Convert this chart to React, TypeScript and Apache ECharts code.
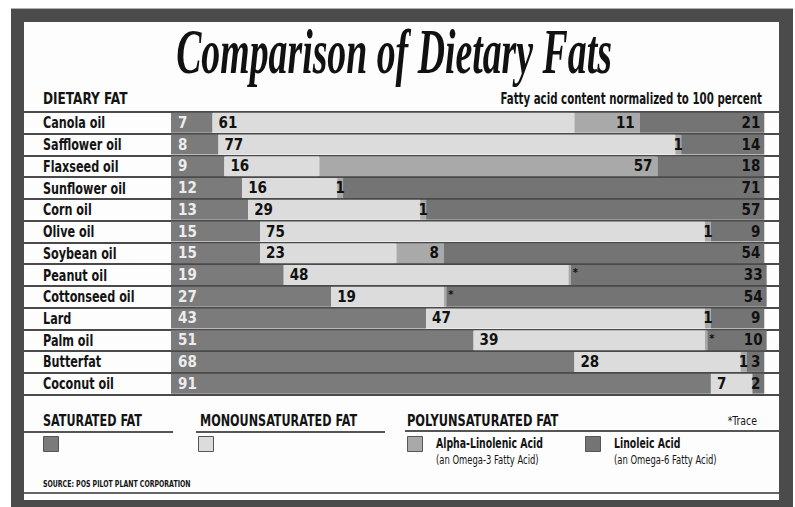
import React, { useEffect, useRef } from "react";
import * as echarts from "echarts";

const categories = [
  "Canola oil", "Safflower oil", "Flaxseed oil", "Sunflower oil", "Corn oil",
  "Olive oil", "Soybean oil", "Peanut oil", "Cottonseed oil", "Lard",
  "Palm oil", "Butterfat", "Coconut oil",
];
const saturated = [7, 8, 9, 12, 13, 15, 15, 19, 27, 43, 51, 68, 91];
const monounsaturated = [61, 77, 16, 16, 29, 75, 23, 48, 19, 47, 39, 28, 7];
// "trace" = shown as * in the chart
const alphaLinolenic: (number | "trace")[] = [11, 1, 57, 1, 1, 1, 8, "trace", "trace", 1, "trace", 1, 0];
const linoleic = [21, 14, 18, 71, 57, 9, 54, 33, 54, 9, 10, 3, 2];
const TRACE_VALUE = 0.4;

const seriesNames = ["Saturated Fat", "Monounsaturated Fat", "Alpha-Linolenic Acid", "Linoleic Acid"];
const colors = ["#7b7b7b", "#dcdcdc", "#a9a9a9", "#747474"];

const NARROW = "'Liberation Sans Narrow', 'DejaVu Sans Condensed', 'DejaVu Sans', sans-serif";

function ctext(x: number, y: number, text: string, fontSize: number, bold: boolean, sx: number, align = "left", fill = "#141414") {
  return {
    type: "text",
    z: 100,
    x,
    y,
    scaleX: sx,
    silent: true,
    style: {
      text,
      fontFamily: NARROW,
      fontWeight: bold ? "bold" : "normal",
      fontSize,
      fill,
      align,
      verticalAlign: "middle",
    },
  };
}

export default function App() {
  const ref = useRef<HTMLDivElement>(null);
  useEffect(() => {
    const chart = echarts.init(ref.current!, null, { renderer: "svg" });
    const valLabel = (extra: any) => ({
      show: true,
      fontFamily: NARROW,
      fontWeight: "bold",
      fontSize: 15,
      color: "#111",
      ...extra,
    });
    const alaData = alphaLinolenic.map((v) => {
      if (v === "trace") {
        return {
          value: TRACE_VALUE,
          label: { show: true, position: "right", distance: 2, formatter: "*", fontSize: 11, offset: [0, -2] },
        };
      }
      if (v === 0) return { value: 0, label: { show: false } };
      if (v <= 1) return { value: v, label: { show: true, position: "inside" } };
      return { value: v, label: { show: true, position: "insideRight", distance: 5 } };
    });
    const option: any = {
      animation: false,
      backgroundColor: "#ffffff",
      grid: { left: 24, right: 15, top: 112, height: 282.5, containLabel: false },
      xAxis: {
        type: "value",
        min: -24.78,
        max: 102.65,
        show: false,
      },
      yAxis: {
        type: "category",
        data: categories,
        inverse: true,
        axisLine: { show: false },
        axisTick: { show: false },
        axisLabel: { show: false },
        splitLine: { show: true, interval: 0, lineStyle: { color: "#4a4a4a", width: 2 } },
      },
      legend: [
        { left: 43, top: 436, data: [seriesNames[0]] },
        { left: 198, top: 436, data: [seriesNames[1]] },
        { left: 407, top: 436, data: [seriesNames[2]] },
        { left: 585, top: 436, data: [seriesNames[3]] },
      ].map((l) => ({
        ...l,
        padding: 0,
        selectedMode: false,
        icon: "rect",
        itemWidth: 15,
        itemHeight: 15,
        itemStyle: { borderColor: "#555", borderWidth: 1 },
        formatter: () => "",
      })),
      series: [
        {
          name: seriesNames[0],
          type: "bar",
          stack: "fat",
          barWidth: 20,
          itemStyle: { color: colors[0] },
          label: valLabel({ position: "insideLeft", distance: 7, color: "#ececec" }),
          data: saturated,
        },
        {
          name: seriesNames[1],
          type: "bar",
          stack: "fat",
          barWidth: 20,
          itemStyle: { color: colors[1] },
          label: valLabel({ position: "insideLeft", distance: 6 }),
          data: monounsaturated,
        },
        {
          name: seriesNames[2],
          type: "bar",
          stack: "fat",
          barWidth: 20,
          itemStyle: { color: colors[2] },
          label: valLabel({}),
          data: alaData,
        },
        {
          name: seriesNames[3],
          type: "bar",
          stack: "fat",
          barWidth: 20,
          itemStyle: { color: colors[3] },
          label: valLabel({ position: "insideRight", distance: 4 }),
          data: linoleic,
        },
      ],
    };
    chart.setOption(option);

    // Row (category) labels, positioned through the category axis scale
    const rowLabels = categories.map((c, i) => {
      const y = chart.convertToPixel({ yAxisIndex: 0 }, i) as number;
      return ctext(43, y, c, 16, true, 0.78);
    });

    const elements: any[] = [
      { type: "rect", silent: true, z: -20, shape: { x: 11, y: 8, width: 782, height: 499 }, style: { fill: "#4b4b4b" } },
      { type: "rect", silent: true, z: -19, shape: { x: 11, y: 8, width: 782, height: 1 }, style: { fill: "#b0b0b0" } },
      { type: "rect", silent: true, z: -18, shape: { x: 24, y: 22, width: 755, height: 478 }, style: { fill: "#fdfdfd" } },
      {
        type: "text", z: 100, x: 394, y: 52, scaleX: 0.6, silent: true,
        style: {
          text: "Comparison of Dietary Fats", fontFamily: "'Liberation Serif', 'DejaVu Serif', serif",
          fontStyle: "italic", fontWeight: "bold", fontSize: 63, fill: "#111", align: "center", verticalAlign: "middle",
        },
      },
      ctext(43, 98.5, "DIETARY FAT", 15, true, 0.9),
      ctext(762, 98.5, "Fatty acid content normalized to 100 percent", 15, true, 0.76, "right"),
      ...rowLabels,
      ctext(43, 419.5, "SATURATED FAT", 16.5, true, 0.756),
      ctext(200, 419.5, "MONOUNSATURATED FAT", 16.5, true, 0.756),
      ctext(407, 419.5, "POLYUNSATURATED FAT", 16.5, true, 0.77),
      ctext(757, 421, "*Trace", 13, false, 0.8, "right"),
      { type: "line", z: 100, silent: true, shape: { x1: 24, y1: 432, x2: 173, y2: 432 }, style: { stroke: "#555", lineWidth: 2 } },
      { type: "line", z: 100, silent: true, shape: { x1: 196, y1: 432, x2: 385, y2: 432 }, style: { stroke: "#555", lineWidth: 2 } },
      { type: "line", z: 100, silent: true, shape: { x1: 405, y1: 431, x2: 779, y2: 431 }, style: { stroke: "#555", lineWidth: 2 } },
      ctext(436, 443.5, "Alpha-Linolenic Acid", 13.5, true, 0.77),
      ctext(436, 460.5, "(an Omega-3 Fatty Acid)", 12.5, false, 0.75),
      ctext(614, 443.5, "Linoleic Acid", 13.5, true, 0.77),
      ctext(614, 460.5, "(an Omega-6 Fatty Acid)", 12.5, false, 0.75),
      ctext(43, 484, "SOURCE: POS PILOT PLANT CORPORATION", 9, true, 0.77),
      { type: "line", z: 100, silent: true, shape: { x1: 24, y1: 493, x2: 779, y2: 493 }, style: { stroke: "#666", lineWidth: 2 } },
    ];
    chart.setOption({ graphic: { elements } });
    return () => chart.dispose();
  }, []);
  return <div ref={ref} style={{ position: "fixed", left: 0, top: 0, width: 795, height: 507 }} />;
}
